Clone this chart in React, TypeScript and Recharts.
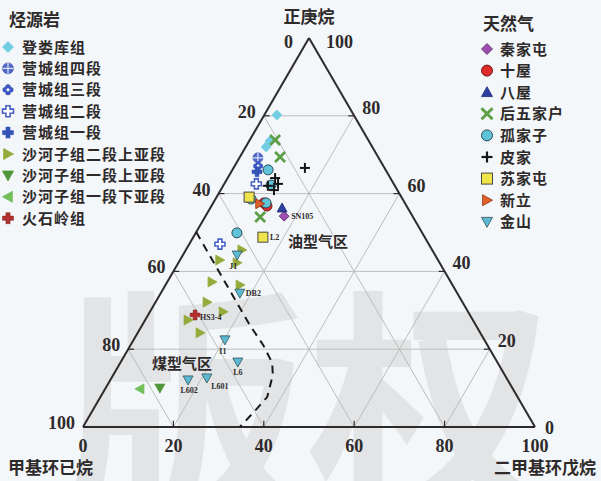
import React from 'react';
import { ScatterChart, Scatter, XAxis, YAxis, ReferenceLine } from 'recharts';

// each point: [正庚烷 %, 二甲基环戊烷 %]; 甲基环已烷 = 100 - both
type T = [number, number];

// 烃源岩
const denglouku: T[] = [[80.2, 2.8], [73.5, 4.6], [72.0, 4.5]];
const yingcheng4: T[] = [[69.2, 4.1]];
const yingcheng3: T[] = [[67.1, 5.2]];
const yingcheng2: T[] = [[62.5, 7.1], [47.0, 6.8]];
const yingcheng1: T[] = [[65.6, 5.7]];
const shahezi2Upper: T[] = [
  [45.5, 12.4], [42.9, 8.8], [42.2, 13.0], [37.3, 9.9], [36.5, 16.5],
  [32.1, 11.4], [29.6, 16.2], [27.5, 9.5], [24.2, 13.8], [58.9, 7.5],
];
const shahezi1Upper: T[] = [[10.0, 12.0]];
const shahezi1Lower: T[] = [[9.8, 7.7]];
const huoshiling: T[] = [[28.8, 10.4]];

// 天然气
const qinjiatun: T[] = [[54.2, 17.4]];
const shiwu: T[] = [[57.6, 11.2], [56.8, 12.3]];
const bawu: T[] = [[56.3, 15.9]];
const houwujiahu: T[] = [[73.8, 5.6], [69.4, 8.9], [54.0, 12.2]];
const gujiazi: T[] = [[66.1, 7.9], [62.2, 10.5], [57.6, 11.7], [49.9, 9.1], [58.6, 7.9]];
const pijia: T[] = [[66.6, 15.8], [64.0, 10.5], [62.0, 9.9], [60.9, 11.8], [62.5, 11.9]];
const sujiatun: T[] = [[48.8, 15.4], [59.1, 7.2]];
const xinli: T[] = [[57.4, 10.4]];
const jinshan: T[] = [[44.2, 12.0], [34.4, 17.5], [22.4, 20.2], [16.7, 25.9], [12.1, 17.2], [12.6, 21.1]];

// 油型气区 / 煤型气区 boundary
const boundary: T[] = [
  [50.1, 0], [26.2, 23.8], [21.1, 29.3], [16.5, 33.6], [13.4, 35.3],
  [7.7, 36.9], [3.6, 35.8], [0, 34.7],
];

const sampleNames = ['SN105', 'L2', 'J1', 'DB2', 'HS3-4', 'I1', 'L6', 'L602', 'L601'];
const samplePoints: T[] = [
  [54.2, 17.4], [48.8, 15.4], [44.2, 12.0], [34.4, 17.5], [28.8, 10.4],
  [22.4, 20.2], [16.7, 25.9], [12.1, 17.2], [12.6, 21.1],
];

const zoneNames = ['油型气区', '煤型气区'];
const zonePoints: T[] = [[46.3, 22.2], [14.9, 7.8]];

const bottomTicks = [0, 20, 40, 60, 80, 100];
const leftTicks = [20, 40, 60, 80, 100];
const rightTicks = [20, 40, 60, 80];
const gridSteps = [20, 40, 60, 80];

const toXY = (t: T) => ({ x: t[1] + t[0] / 2, y: t[0] });

const SERIF = '"Liberation Serif", "DejaVu Serif", serif';
const CJK = '"Noto Sans CJK SC", sans-serif';
const INK = '#2e2a2a';

const sym = (kind: string, fill: string, stroke: string, r = 5) => (props: any) => {
  const { cx, cy } = props;
  if (cx == null || cy == null) return <g />;
  const a = r * 0.38;
  switch (kind) {
    case 'diamond':
      return <polygon points={`${cx},${cy - r} ${cx + r},${cy} ${cx},${cy + r} ${cx - r},${cy}`} fill={fill} stroke={stroke} strokeWidth={0.8} />;
    case 'circle':
      return <circle cx={cx} cy={cy} r={r} fill={fill} stroke={stroke} strokeWidth={1} />;
    case 'square':
      return <rect x={cx - r} y={cy - r} width={2 * r} height={2 * r} fill={fill} stroke={stroke} strokeWidth={1} />;
    case 'triUp':
      return <polygon points={`${cx},${cy - r} ${cx + r},${cy + r * 0.8} ${cx - r},${cy + r * 0.8}`} fill={fill} stroke={stroke} strokeWidth={0.8} />;
    case 'triDown':
      return <polygon points={`${cx},${cy + r} ${cx + r},${cy - r * 0.8} ${cx - r},${cy - r * 0.8}`} fill={fill} stroke={stroke} strokeWidth={0.8} />;
    case 'triRight':
      return <polygon points={`${cx + r},${cy} ${cx - r * 0.8},${cy - r} ${cx - r * 0.8},${cy + r}`} fill={fill} stroke={stroke} strokeWidth={0.8} />;
    case 'triLeft':
      return <polygon points={`${cx - r},${cy} ${cx + r * 0.8},${cy - r} ${cx + r * 0.8},${cy + r}`} fill={fill} stroke={stroke} strokeWidth={0.8} />;
    case 'x':
      return (
        <g stroke={fill} strokeWidth={r * 0.55} strokeLinecap="butt">
          <line x1={cx - r} y1={cy - r} x2={cx + r} y2={cy + r} />
          <line x1={cx - r} y1={cy + r} x2={cx + r} y2={cy - r} />
        </g>
      );
    case 'plus':
      return (
        <g stroke={fill} strokeWidth={r * 0.4}>
          <line x1={cx - r} y1={cy} x2={cx + r} y2={cy} />
          <line x1={cx} y1={cy - r} x2={cx} y2={cy + r} />
        </g>
      );
    case 'cross':
    case 'crossOutline': {
      const pts = [
        [cx - a, cy - r], [cx + a, cy - r], [cx + a, cy - a], [cx + r, cy - a], [cx + r, cy + a], [cx + a, cy + a],
        [cx + a, cy + r], [cx - a, cy + r], [cx - a, cy + a], [cx - r, cy + a], [cx - r, cy - a], [cx - a, cy - a],
      ].map((p) => p.join(',')).join(' ');
      return kind === 'cross'
        ? <polygon points={pts} fill={fill} stroke={stroke} strokeWidth={0.5} />
        : <polygon points={pts} fill="#ffffff" stroke={fill} strokeWidth={1.6} />;
    }
    case 'circlePlus':
      return (
        <g>
          <circle cx={cx} cy={cy} r={r} fill={fill} stroke={stroke} strokeWidth={0.6} />
          <line x1={cx - r} y1={cy} x2={cx + r} y2={cy} stroke="#dfe5ff" strokeWidth={1.2} />
          <line x1={cx} y1={cy - r} x2={cx} y2={cy + r} stroke="#dfe5ff" strokeWidth={1.2} />
        </g>
      );
    case 'flower': {
      const q = r * 0.5;
      return (
        <g fill={fill}>
          <circle cx={cx} cy={cy - q} r={q} />
          <circle cx={cx} cy={cy + q} r={q} />
          <circle cx={cx - q} cy={cy} r={q} />
          <circle cx={cx + q} cy={cy} r={q} />
          <circle cx={cx} cy={cy} r={q * 0.55} fill="#ffffff" />
        </g>
      );
    }
    default:
      return <circle cx={cx} cy={cy} r={r} fill={fill} />;
  }
};

const rockSeries = [
  { name: '登娄库组', data: denglouku, kind: 'diamond', fill: '#72cde3', stroke: '#72cde3' },
  { name: '营城组四段', data: yingcheng4, kind: 'circlePlus', fill: '#5069c8', stroke: '#3a4fa8' },
  { name: '营城组三段', data: yingcheng3, kind: 'flower', fill: '#3f58c0', stroke: '#3f58c0' },
  { name: '营城组二段', data: yingcheng2, kind: 'crossOutline', fill: '#4a60c4', stroke: '#4a60c4' },
  { name: '营城组一段', data: yingcheng1, kind: 'cross', fill: '#3454b8', stroke: '#3454b8' },
  { name: '沙河子组二段上亚段', data: shahezi2Upper, kind: 'triRight', fill: '#96aa3c', stroke: '#96aa3c' },
  { name: '沙河子组一段上亚段', data: shahezi1Upper, kind: 'triDown', fill: '#4e973a', stroke: '#4e973a' },
  { name: '沙河子组一段下亚段', data: shahezi1Lower, kind: 'triLeft', fill: '#72bf5c', stroke: '#72bf5c' },
  { name: '火石岭组', data: huoshiling, kind: 'cross', fill: '#b3302e', stroke: '#7a2020' },
];

const gasSeries = [
  { name: '秦家屯', data: qinjiatun, kind: 'diamond', fill: '#9c4fae', stroke: '#5a2a66' },
  { name: '十屋', data: shiwu, kind: 'circle', fill: '#e02b2b', stroke: '#6a1a1a' },
  { name: '八屋', data: bawu, kind: 'triUp', fill: '#2d40a0', stroke: '#1c2a70' },
  { name: '后五家户', data: houwujiahu, kind: 'x', fill: '#5d9f46', stroke: '#5d9f46' },
  { name: '孤家子', data: gujiazi, kind: 'circle', fill: '#5ec2d8', stroke: '#2f4f58' },
  { name: '皮家', data: pijia, kind: 'plus', fill: '#161616', stroke: '#161616' },
  { name: '苏家屯', data: sujiatun, kind: 'square', fill: '#efe44a', stroke: '#4a4a40' },
  { name: '新立', data: xinli, kind: 'triRight', fill: '#e2612a', stroke: '#8a3010' },
  { name: '金山', data: jinshan, kind: 'triDown', fill: '#5dbad3', stroke: '#2f4f58' },
];

const labelOffsets: Record<string, [number, number, string]> = {
  SN105: [7, 3, 'start'],
  L2: [7, 3, 'start'],
  J1: [-4, 14, 'middle'],
  DB2: [6, 3, 'start'],
  'HS3-4': [5, 5, 'start'],
  I1: [-2, 14, 'middle'],
  L6: [0, 13, 'middle'],
  L602: [1, 13, 'middle'],
  L601: [13, 11, 'middle'],
};

const textShape = (dx: number, dy: number, anchor: string, size: number, family: string, weight = 700) => (p: any) => {
  if (p.cx == null) return <g />;
  return (
    <text x={p.cx + dx} y={p.cy + dy} textAnchor={anchor as any} fontSize={size} fontFamily={family} fontWeight={weight} fill={INK}>
      {p.payload.label}
    </text>
  );
};

const Legend = ({ title, items, x, titleX, textGap, titleY, y0, step }: any) => (
  <g>
    <text x={titleX} y={titleY} fontSize={17} fontFamily={CJK} fontWeight={700} fill={INK}>{title}</text>
    {items.map((s: any, i: number) => {
      const cy = y0 + i * step;
      return (
        <g key={s.name}>
          {sym(s.kind, s.fill, s.stroke, 5.5)({ cx: x + 5, cy })}
          <text x={x + textGap} y={cy + 5.5} fontSize={15} letterSpacing={1} fontFamily={CJK} fontWeight={700} fill={INK}>{s.name}</text>
        </g>
      );
    })}
  </g>
);

export default function App() {
  const grid: { a: { x: number; y: number }; b: { x: number; y: number } }[] = [];
  gridSteps.forEach((k) => {
    grid.push({ a: { x: k / 2, y: k }, b: { x: 100 - k / 2, y: k } });
    grid.push({ a: { x: k, y: 0 }, b: { x: k + (100 - k) / 2, y: 100 - k } });
    grid.push({ a: { x: 100 - k, y: 0 }, b: { x: (100 - k) / 2, y: 100 - k } });
  });
  const ticks: { a: { x: number; y: number }; b: { x: number; y: number } }[] = [];
  gridSteps.forEach((k) => {
    ticks.push({ a: { x: k, y: 0 }, b: { x: k, y: 1.6 } });
    ticks.push({ a: { x: k / 2, y: k }, b: { x: k / 2 + 1.3, y: k } });
    ticks.push({ a: { x: 100 - k / 2, y: k }, b: { x: 100 - k / 2 - 1.3, y: k } });
  });
  const edges = [
    { a: { x: 0, y: 0 }, b: { x: 100, y: 0 } },
    { a: { x: 0, y: 0 }, b: { x: 50, y: 100 } },
    { a: { x: 100, y: 0 }, b: { x: 50, y: 100 } },
  ];

  const bottomLabels = bottomTicks.map((k) => ({ x: k, y: 0, label: String(k) }));
  const leftLabels = leftTicks.map((k) => ({ x: (100 - k) / 2, y: 100 - k, label: String(k) }));
  const rightLabels = rightTicks.map((k) => ({ x: 100 - k / 2, y: k, label: String(k) }));
  const apexLeft = [{ x: 50, y: 100, label: '0' }];
  const apexRight = [{ x: 50, y: 100, label: '100' }];
  const cornerRight = [{ x: 100, y: 0, label: '0' }];

  return (
    <div style={{ position: 'absolute', left: 0, top: 0, width: 601, height: 481, background: '#f4f7fa', overflow: 'hidden' }}>
      <svg width={601} height={481} style={{ position: 'absolute', left: 0, top: 0 }}>
        <text x={62} y={500} fontSize={245} fontFamily={CJK} fontWeight={700} fill="#e2e4e6">版权</text>
      </svg>
      <div style={{ position: 'absolute', left: 0, top: 0 }}>
        <ScatterChart width={601} height={481} margin={{ top: 38, right: 66, bottom: 54, left: 83 }}>
          <XAxis type="number" dataKey="x" domain={[0, 100]} hide />
          <YAxis type="number" dataKey="y" domain={[0, 100]} hide />
          {grid.map((g, i) => (
            <ReferenceLine key={`g${i}`} segment={[g.a, g.b]} stroke="#bdbdbd" strokeWidth={1} ifOverflow="visible" />
          ))}
          {ticks.map((g, i) => (
            <ReferenceLine key={`t${i}`} segment={[g.a, g.b]} stroke={INK} strokeWidth={1.2} ifOverflow="visible" />
          ))}
          {edges.map((g, i) => (
            <ReferenceLine key={`e${i}`} segment={[g.a, g.b]} stroke={INK} strokeWidth={2} ifOverflow="visible" />
          ))}
          <Scatter
            data={boundary.map(toXY)}
            line={{ stroke: '#1a1a1a', strokeWidth: 2, strokeDasharray: '8 6' }}
            lineType="joint"
            shape={() => <g />}
            isAnimationActive={false}
          />
          {rockSeries.map((s) => (
            <Scatter key={s.name} name={s.name} data={s.data.map(toXY)} shape={sym(s.kind, s.fill, s.stroke, 5)} isAnimationActive={false} />
          ))}
          {gasSeries.map((s) => (
            <Scatter key={s.name} name={s.name} data={s.data.map(toXY)} shape={sym(s.kind, s.fill, s.stroke, 5)} isAnimationActive={false} />
          ))}
          {sampleNames.map((n, i) => {
            const o = labelOffsets[n];
            return (
              <Scatter key={n} data={[{ ...toXY(samplePoints[i]), label: n }]} shape={textShape(o[0], o[1], o[2], 8, SERIF)} isAnimationActive={false} />
            );
          })}
          {zoneNames.map((n, i) => (
            <Scatter key={n} data={[{ ...toXY(zonePoints[i]), label: n }]} shape={textShape(0, 0, 'start', 15, CJK)} isAnimationActive={false} />
          ))}
          <Scatter data={bottomLabels} shape={textShape(0, 25, 'middle', 18, SERIF)} isAnimationActive={false} />
          <Scatter data={leftLabels} shape={textShape(-8, 2, 'end', 18, SERIF)} isAnimationActive={false} />
          <Scatter data={rightLabels} shape={textShape(8, -2, 'start', 18, SERIF)} isAnimationActive={false} />
          <Scatter data={apexLeft} shape={textShape(-16, 10, 'end', 18, SERIF)} isAnimationActive={false} />
          <Scatter data={apexRight} shape={textShape(17, 10, 'start', 18, SERIF)} isAnimationActive={false} />
          <Scatter data={cornerRight} shape={textShape(10, 7, 'start', 18, SERIF)} isAnimationActive={false} />
        </ScatterChart>
      </div>
      <svg width={601} height={481} style={{ position: 'absolute', left: 0, top: 0, pointerEvents: 'none' }}>
        <text x={309} y={23} textAnchor="middle" fontSize={17} fontFamily={CJK} fontWeight={700} fill={INK}>正庚烷</text>
        <text x={8} y={474} fontSize={17} fontFamily={CJK} fontWeight={700} fill={INK}>甲基环已烷</text>
        <text x={596} y={474} textAnchor="end" fontSize={17} fontFamily={CJK} fontWeight={700} fill={INK}>二甲基环戊烷</text>
        <Legend title="烃源岩" items={rockSeries} x={3} titleX={9} textGap={19} titleY={26} y0={47} step={21.4} />
        <Legend title="天然气" items={gasSeries} x={482} titleX={483} textGap={18} titleY={30} y0={49} step={21.6} />
      </svg>
    </div>
  );
}
